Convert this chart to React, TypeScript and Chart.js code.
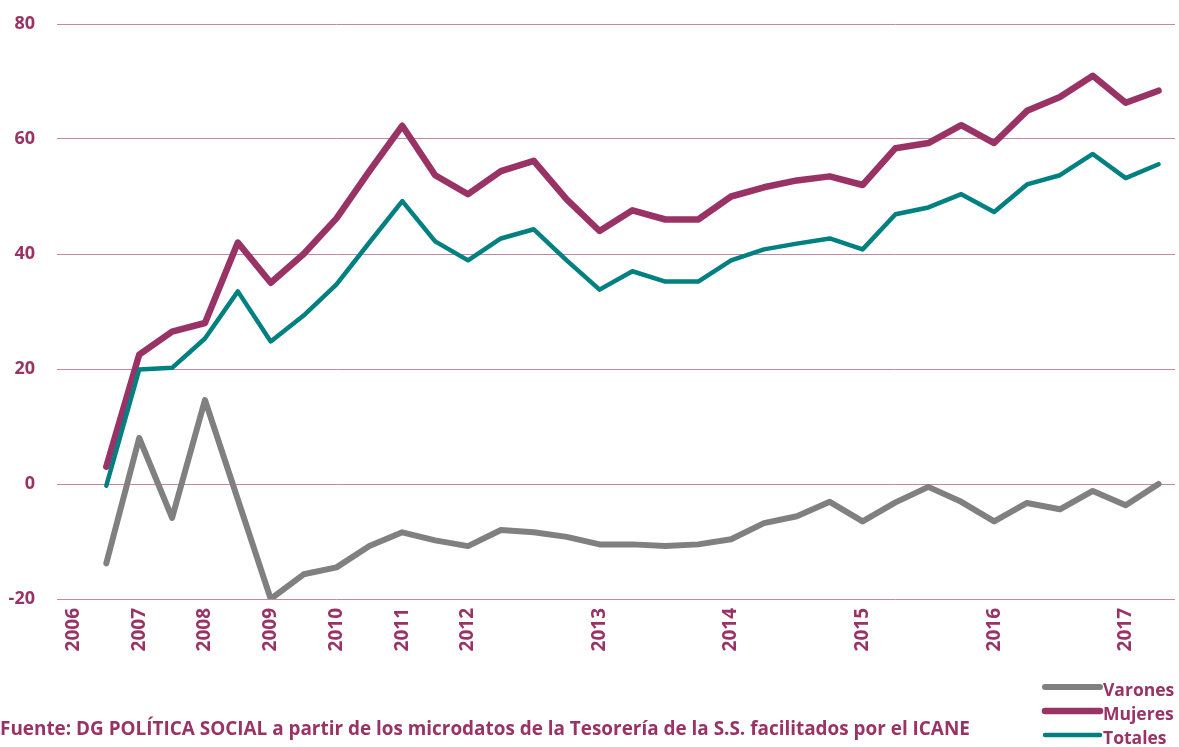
import React, { useEffect, useRef } from "react";
import { Chart, registerables } from "chart.js";

Chart.register(...registerables);

const categories: string[] = [
  "2006", "", "2007", "", "2008", "", "2009", "", "2010", "", "2011", "", "2012", "", "", "",
  "2013", "", "", "", "2014", "", "", "", "2015", "", "", "", "2016", "", "", "", "2017", "",
];

const varones: (number | null)[] = [
  null, -13.8, 8.0, -5.9, 14.6, -2.7, -20.0, -15.7, -14.5, -10.8, -8.4, -9.8, -10.8, -8.0, -8.4, -9.2,
  -10.5, -10.5, -10.8, -10.5, -9.6, -6.8, -5.6, -3.1, -6.5, -3.2, -0.5, -3.1, -6.5, -3.3, -4.4, -1.2,
  -3.7, 0.0,
];

const mujeres: (number | null)[] = [
  null, 3.0, 22.5, 26.5, 28.0, 42.0, 35.0, 40.0, 46.2, 54.4, 62.3, 53.7, 50.4, 54.4, 56.2, 49.5,
  44.0, 47.6, 46.0, 46.0, 50.0, 51.6, 52.8, 53.5, 52.0, 58.4, 59.3, 62.4, 59.3, 64.9, 67.3, 71.0,
  66.3, 68.4,
];

const totales: (number | null)[] = [
  null, -0.3, 19.9, 20.2, 25.3, 33.5, 24.8, 29.3, 34.7, 42.0, 49.2, 42.2, 38.9, 42.7, 44.3, 38.9,
  33.8, 37.0, 35.2, 35.2, 38.9, 40.8, 41.8, 42.7, 40.8, 46.9, 48.1, 50.4, 47.3, 52.1, 53.7, 57.4,
  53.2, 55.6,
];

const seriesNames = ["Varones", "Mujeres", "Totales"];
const yMin = -20;
const yMax = 80;
const yStep = 20;
const sourceText =
  "Fuente: DG POLÍTICA SOCIAL a partir de los microdatos de la Tesorería de la S.S. facilitados por el ICANE";

const PURPLE = "#993366";
const GRID = "#c187a6";
const COLORS = ["#808080", "#993366", "#008080"];
const WIDTHS = [6, 6.5, 4.5];
const FONT = "'Open Sans'";

const extrasPlugin = {
  id: "extras",
  afterDraw(chart: any) {
    const ctx = chart.ctx as CanvasRenderingContext2D;
    ctx.save();
    // Source text
    ctx.fillStyle = PURPLE;
    ctx.font = `bold 17px ${FONT}`;
    const w = ctx.measureText(sourceText).width;
    const size = Math.min(20, (17 * 970) / w);
    ctx.font = `bold ${size.toFixed(2)}px ${FONT}`;
    ctx.textAlign = "left";
    ctx.textBaseline = "alphabetic";
    ctx.fillText(sourceText, 0, 735);
    // Legend
    const ds = chart.data.datasets;
    const lineYs = [687, 711, 735];
    ds.forEach((d: any, i: number) => {
      const y = lineYs[i];
      ctx.strokeStyle = d.borderColor;
      ctx.lineWidth = d.borderWidth;
      ctx.lineCap = "round";
      ctx.beginPath();
      ctx.moveTo(1045, y);
      ctx.lineTo(1100, y);
      ctx.stroke();
      ctx.fillStyle = PURPLE;
      ctx.font = `bold 17.5px ${FONT}`;
      ctx.textBaseline = "alphabetic";
      ctx.fillText(d.label, 1103, y + 9);
    });
    ctx.restore();
  },
};

export default function App() {
  const ref = useRef<HTMLCanvasElement>(null);

  useEffect(() => {
    document.body.style.margin = "0";
    const canvas = ref.current!;
    const chart = new Chart(canvas, {
      type: "line",
      data: {
        labels: categories,
        datasets: [varones, mujeres, totales].map((data, i) => ({
          label: seriesNames[i],
          data,
          borderColor: COLORS[i],
          backgroundColor: COLORS[i],
          borderWidth: WIDTHS[i],
          pointRadius: 0,
          pointHoverRadius: 0,
          tension: 0,
          fill: false,
          borderCapStyle: "round" as const,
          borderJoinStyle: "round" as const,
          order: 2 - i,
        })),
      },
      options: {
        animation: false,
        responsive: false,
        maintainAspectRatio: false,
        events: [],
        layout: { padding: { top: 24, right: 4, left: 0, bottom: 0 } },
        plugins: {
          legend: { display: false },
          tooltip: { enabled: false },
          title: { display: false },
        },
        scales: {
          x: {
            type: "category",
            offset: true,
            grid: { display: false, drawTicks: false },
            border: { display: false },
            ticks: {
              autoSkip: false,
              minRotation: 90,
              maxRotation: 90,
              padding: 9,
              color: PURPLE,
              font: { family: FONT, size: 19, weight: "bold" },
            },
            afterFit(scale: any) {
              scale.height = 148;
              scale.paddingLeft = 0;
              scale.paddingRight = 0;
            },
          },
          y: {
            min: yMin,
            max: yMax,
            ticks: {
              stepSize: yStep,
              padding: 22,
              color: PURPLE,
              font: { family: FONT, size: 18, weight: "bold" },
            },
            grid: { color: GRID, lineWidth: 1, drawTicks: false },
            border: { display: false },
            afterFit(scale: any) {
              scale.width = 57;
              scale.paddingTop = 0;
              scale.paddingBottom = 0;
            },
          },
        },
      },
      plugins: [extrasPlugin],
    });
    return () => chart.destroy();
  }, []);

  return (
    <div style={{ position: "relative", width: 1179, height: 747, background: "#fff" }}>
      <canvas ref={ref} width={1179} height={747} style={{ display: "block", width: 1179, height: 747 }} />
    </div>
  );
}
